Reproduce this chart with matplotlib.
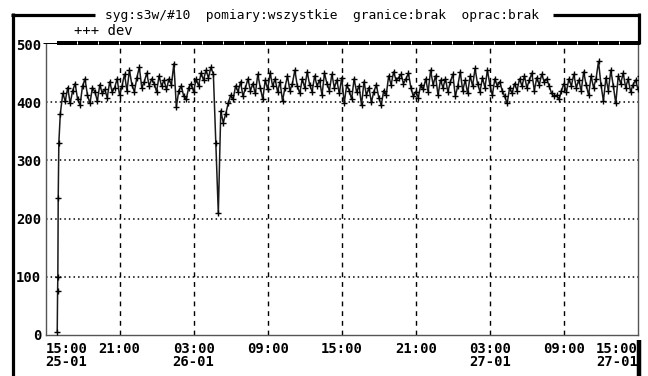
import numpy as np
import matplotlib
matplotlib.use("Agg")
import matplotlib.pyplot as plt
from matplotlib.lines import Line2D

# --- data -----------------------------------------------------------------
# hours after 15:00 on 25-01; the start-up ramp is sampled more densely
ramp_t = [0.95, 0.98, 1.0, 1.03, 1.08, 1.2]
ramp_v = [5, 75, 100, 235, 330, 380]
# after the ramp one sample every 12 minutes
t_start = 1.4
t_step = 0.2
dev = [
    415, 402, 425, 398, 420, 432, 405,
    395, 428, 440, 412, 398, 425, 418, 402, 430, 415,
    422, 408, 435, 418, 425, 440, 412, 428, 448, 420,
    455, 430, 418, 442, 460, 425, 435, 450, 428, 440,
    432, 418, 445, 428, 438, 422, 440, 430, 466, 392,
    420, 428, 410, 405, 425, 432, 418, 440, 428, 450,
    438, 455, 442, 460, 448, 330, 209, 385, 365, 380,
    398, 412, 405, 428, 418, 435, 410, 425, 440, 420,
    432, 415, 448, 425, 405, 438, 422, 450, 428, 440,
    418, 435, 402, 425, 445, 420, 432, 455, 428, 415,
    440, 425, 452, 430, 418, 445, 428, 438, 412, 450,
    432, 420, 448, 425, 438, 415, 442, 398, 430, 420,
    405, 440, 418, 428, 395, 435, 412, 425, 400, 418,
    430, 408, 395, 420, 412, 445, 430, 452, 438, 442,
    448, 432, 440, 450, 425, 410, 418, 408, 430, 422,
    440, 418, 455, 430, 445, 412, 438, 425, 440, 418,
    435, 448, 410, 428, 452, 420, 438, 415, 445, 428,
    458, 432, 418, 442, 425, 455, 430, 412, 440, 428,
    435, 420, 410, 398, 425, 415, 432, 420, 440, 428,
    445, 425, 438, 450, 420, 442, 430, 448, 435, 440,
    428, 415, 410, 412, 405, 420, 432, 418, 440, 428,
    448, 425, 438, 420, 452, 430, 412, 445, 425, 440,
    470, 430, 402, 442, 420, 455, 428, 398, 445, 432,
    450, 425, 440, 418, 430, 438, 422, 445, 428, 435,
]
x_ticks = [0, 6, 12, 18, 24, 30, 36, 42, 48]
x_labels = ["15:00\n25-01", "21:00", "03:00\n26-01", "09:00", "15:00",
            "21:00", "03:00\n27-01", "09:00", "15:00\n27-01"]
y_ticks = [0, 100, 200, 300, 400, 500]
title = "syg:s3w/#10  pomiary:wszystkie  granice:brak  oprac:brak"
series_name = "dev"

t = np.concatenate([ramp_t, t_start + t_step * np.arange(len(dev))])
v = np.concatenate([ramp_v, dev])

# --- figure ---------------------------------------------------------------
W, H = 648, 376
fig = plt.figure(figsize=(W / 100, H / 100), dpi=100)
FONT = "DejaVu Sans Mono"


def fx(px):
    return px / W


def fy(py):
    return 1 - py / H


ax_l, ax_r, ax_t, ax_b = 45.5, 638, 44, 335
ax = fig.add_axes([fx(ax_l), fy(ax_b), fx(ax_r) - fx(ax_l), fy(ax_t) - fy(ax_b)])
ax.set_xlim(0, 48)
ax.set_ylim(0, 500)

# grid: dotted horizontals, dashed verticals
for yv in y_ticks[1:-1]:
    ax.axhline(yv, color="black", lw=1.1, ls=(0, (1, 2)), zorder=1)
for xv in x_ticks[1:-1]:
    ax.axvline(xv, color="black", lw=1.0, ls=(0, (3.5, 3.5)), zorder=1)

ax.plot(t, v, color="#1a1a1a", lw=1.1, marker="+", ms=5, mew=1.0,
        mec="black", zorder=3)

for side in ("left", "bottom", "right"):
    ax.spines[side].set_color("#555555")
    ax.spines[side].set_linewidth(1.0)
ax.spines["top"].set_visible(False)

ax.set_xticks(x_ticks)
ax.set_xticklabels(x_labels, fontfamily=FONT, fontweight="bold",
                   fontsize=10, linespacing=0.95)
ax.set_yticks(y_ticks)
ax.set_yticklabels([str(val) for val in y_ticks], fontfamily=FONT,
                   fontweight="bold", fontsize=10)
ax.tick_params(axis="both", length=0)
ax.tick_params(axis="x", pad=5)
ax.tick_params(axis="y", pad=3)
labs = ax.get_xticklabels()
labs[0].set_ha("left")
labs[-1].set_ha("right")

# --- frame decoration -----------------------------------------------------
def seg(x0, y0, x1, y1, lw, color="black"):
    fig.add_artist(Line2D([fx(x0), fx(x1)], [fy(y0), fy(y1)], lw=lw,
                          color=color, transform=fig.transFigure,
                          solid_capstyle="butt"))


thick = 3.2 * 72 / 100
seg(12.5, 13, 12.5, 376, thick)           # left border
seg(11, 14.5, 95, 14.5, thick)            # top border, left part
seg(553, 14.5, 640, 14.5, thick)          # top border, right part
seg(638.5, 13, 638.5, 44, thick)          # right drop to plot
seg(638.5, 340, 638.5, 376, thick * 1.4)  # bottom-right bar

# ruler band across the top of the plot
seg(43, 43, 57, 43, 1.0 * 72 / 100)
seg(57, 43, 640, 43, 4 * 72 / 100)
tick_x = 77.0
while tick_x < 636:
    seg(tick_x, 41, tick_x, 43.5, 1.0 * 72 / 100, color="white")
    tick_x += 20.85

fig.text(fx(105), fy(15), title, fontfamily=FONT, fontsize=9.3,
         va="center", ha="left")
fig.text(fx(74), fy(31), "+++ " + series_name, fontfamily=FONT,
         fontsize=10, va="center", ha="left")

fig.savefig("out.png", dpi=100)
